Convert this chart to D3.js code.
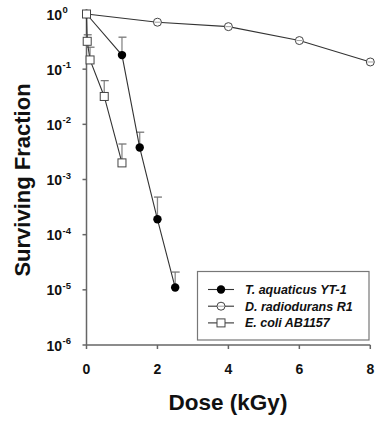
<!DOCTYPE html>
<html>
<head>
<meta charset="utf-8">
<title>Surviving fraction vs dose</title>
<script src="https://cdn.jsdelivr.net/npm/d3@7"></script>
<style>
  body { margin: 0; background: #fff; }
  text { font-family: Arial, "Liberation Sans", sans-serif; font-weight: bold; fill: #111; }
</style>
</head>
<body>
<svg id="vis" width="387" height="432"></svg>
<script>
// data
var taqDose  = [0, 1, 1.5, 2, 2.5];
var taqFrac  = [1, 0.18, 0.0038, 0.00019, 0.000011];
var taqErr   = [null, 0.38, 0.0072, 0.00048, 0.000021];

var draDose  = [0, 2, 4, 6, 8];
var draFrac  = [1, 0.71, 0.59, 0.33, 0.135];

var ecoDose  = [0, 0.02, 0.1, 0.5, 1];
var ecoFrac  = [1, 0.32, 0.147, 0.032, 0.002];
var ecoErr   = [null, 0.42, 0.25, 0.062, 0.0044];

var xTicks = [0, 2, 4, 6, 8];
var yExps  = [0, -1, -2, -3, -4, -5, -6];
var legendNames = ["T. aquaticus YT-1", "D. radiodurans R1", "E. coli AB1157"];

var svg = d3.select("#vis");
var x = d3.scaleLinear().domain([0, 8]).range([86.5, 370.3]);
var y = d3.scaleLog().domain([1e-6, 1]).range([345, 14]);

// axes
var axisCol = "#666";
svg.append("line").attr("x1", x(0)).attr("x2", x(8)).attr("y1", y(1e-6)).attr("y2", y(1e-6))
  .attr("stroke", axisCol).attr("stroke-width", 1.5);
svg.append("line").attr("x1", x(0)).attr("x2", x(0)).attr("y1", y(1e-6)).attr("y2", y(1))
  .attr("stroke", axisCol).attr("stroke-width", 1.5);

xTicks.forEach(function (t) {
  svg.append("line").attr("x1", x(t)).attr("x2", x(t)).attr("y1", y(1e-6)).attr("y2", y(1e-6) + 4)
    .attr("stroke", axisCol).attr("stroke-width", 1.5);
  svg.append("text").attr("x", x(t)).attr("y", 374).attr("text-anchor", "middle")
    .style("font-size", "14px").text(t);
});

yExps.forEach(function (e) {
  var yy = y(Math.pow(10, e));
  svg.append("line").attr("x1", x(0) - 4).attr("x2", x(0)).attr("y1", yy).attr("y2", yy)
    .attr("stroke", axisCol).attr("stroke-width", 1.5);
  svg.append("text").attr("x", 62).attr("y", yy + 5.5).attr("text-anchor", "end")
    .style("font-size", "14px").text("10");
  svg.append("text").attr("x", 62.5).attr("y", yy - 1).attr("text-anchor", "start")
    .style("font-size", "9.5px").text(e === 0 ? "0" : "-" + (-e));
});

svg.append("text").attr("transform", "translate(30,180) rotate(-90)").attr("text-anchor", "middle")
  .style("font-size", "22px").text("Surviving Fraction");
svg.append("text").attr("x", 228).attr("y", 410).attr("text-anchor", "middle")
  .style("font-size", "22.5px").text("Dose (kGy)");

// error bars (upper only)
function errBars(dose, frac, err) {
  dose.forEach(function (d, i) {
    if (err[i] == null) return;
    svg.append("line").attr("x1", x(d)).attr("x2", x(d)).attr("y1", y(frac[i])).attr("y2", y(err[i]))
      .attr("stroke", "#888").attr("stroke-width", 1.3);
    svg.append("line").attr("x1", x(d) - 3.5).attr("x2", x(d) + 4.5).attr("y1", y(err[i])).attr("y2", y(err[i]))
      .attr("stroke", "#777").attr("stroke-width", 1.3);
  });
}
errBars(taqDose, taqFrac, taqErr);
errBars(ecoDose, ecoFrac, ecoErr);

var line = d3.line().x(function (d) { return x(d[0]); }).y(function (d) { return y(d[1]); });
function series(dose, frac) {
  var pts = d3.zip(dose, frac);
  svg.append("path").attr("d", line(pts)).attr("fill", "none").attr("stroke", "#333").attr("stroke-width", 1.1);
  return pts;
}

var draPts = series(draDose, draFrac);
var ecoPts = series(ecoDose, ecoFrac);
var taqPts = series(taqDose, taqFrac);

function dra(g, cx, cy) {
  g.append("circle").attr("cx", cx).attr("cy", cy).attr("r", 4).attr("fill", "#fff").attr("stroke", "#444").attr("stroke-width", 1);
  g.append("line").attr("x1", cx - 3).attr("x2", cx + 3).attr("y1", cy).attr("y2", cy).attr("stroke", "#888").attr("stroke-width", 0.8);
}
function taq(g, cx, cy) {
  g.append("circle").attr("cx", cx).attr("cy", cy).attr("r", 4.2).attr("fill", "#000");
}
function eco(g, cx, cy) {
  g.append("rect").attr("x", cx - 4).attr("y", cy - 4).attr("width", 8).attr("height", 8)
    .attr("fill", "#fff").attr("stroke", "#444").attr("stroke-width", 1);
}

draPts.forEach(function (p) { dra(svg, x(p[0]), y(p[1])); });
taqPts.forEach(function (p) { taq(svg, x(p[0]), y(p[1])); });
ecoPts.forEach(function (p) { eco(svg, x(p[0]), y(p[1])); });

// legend
var lg = svg.append("g");
lg.append("rect").attr("x", 197.5).attr("y", 271.5).attr("width", 171.5).attr("height", 68.5)
  .attr("fill", "#fff").attr("stroke", "#777").attr("stroke-width", 1.2);
var markers = [taq, dra, eco];
legendNames.forEach(function (n, i) {
  var ly = 289.5 + i * 16.7;
  lg.append("line").attr("x1", 208).attr("x2", 234).attr("y1", ly).attr("y2", ly).attr("stroke", "#333").attr("stroke-width", 1.1);
  markers[i](lg, 221, ly);
  lg.append("text").attr("x", 245).attr("y", ly + 4.5).style("font-size", "12.5px").style("font-style", "italic").text(n);
});
</script>
</body>
</html>
